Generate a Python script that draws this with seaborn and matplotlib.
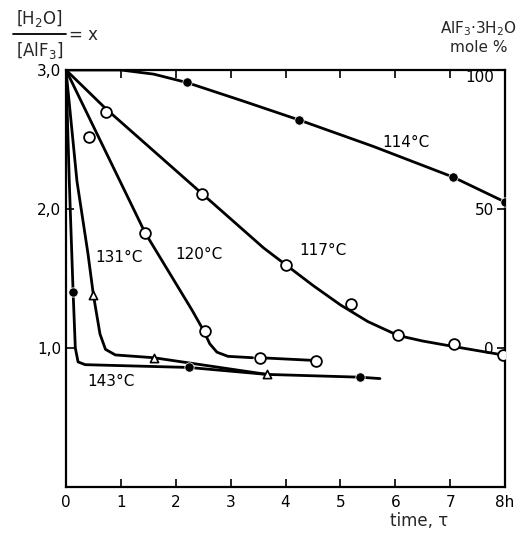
import matplotlib
matplotlib.use("Agg")
import matplotlib.pyplot as plt
from matplotlib.lines import Line2D
import seaborn as sns
import pandas as pd

# curves (time in h, x = [H2O]/[AlF3])
c114_t = [0, 1.0, 1.6, 2.2, 3.2, 4.25, 5.6, 7.05, 8.0]
c114_x = [3.0, 3.0, 2.97, 2.91, 2.78, 2.64, 2.45, 2.23, 2.05]
c117_t = [0, 0.73, 2.48, 3.6, 4.0, 4.5, 5.0, 5.5, 6.05, 6.5, 7.07, 7.96]
c117_x = [3.0, 2.72, 2.11, 1.72, 1.60, 1.45, 1.31, 1.19, 1.09, 1.05, 1.01, 0.95]
c120_t = [0, 1.44, 2.3, 2.5, 2.62, 2.75, 2.95, 3.4]
c120_x = [3.0, 1.83, 1.27, 1.13, 1.03, 0.97, 0.94, 0.93]
c120b_t = [3.53, 4.55]
c120b_x = [0.93, 0.91]
c131_t = [0, 0.2, 0.4, 0.5, 0.62, 0.72, 0.9, 1.6, 3.66]
c131_x = [3.0, 2.2, 1.68, 1.38, 1.1, 0.99, 0.95, 0.93, 0.81]
c143_t = [0, 0.06, 0.13, 0.17, 0.22, 0.35, 2.24, 3.66, 5.36, 5.72]
c143_x = [3.0, 2.2, 1.40, 1.0, 0.9, 0.88, 0.86, 0.81, 0.79, 0.78]

# measured points
p114_t = [2.2, 4.25, 7.05, 8.0]
p114_x = [2.91, 2.64, 2.23, 2.05]
p117_t = [0.73, 2.48, 4.0, 5.2, 6.05, 7.07, 7.96]
p117_x = [2.70, 2.11, 1.60, 1.32, 1.09, 1.03, 0.95]
p120_t = [0.42, 1.44, 2.53, 3.53, 4.55]
p120_x = [2.52, 1.83, 1.12, 0.93, 0.91]
p131_t = [0.49, 1.6, 3.66]
p131_x = [1.38, 0.93, 0.81]
p143_t = [0.13, 2.24, 5.36]
p143_x = [1.40, 0.86, 0.79]

x_ticks = [0, 1, 2, 3, 4, 5, 6, 7, 8]
x_labels = ["0", "1", "2", "3", "4", "5", "6", "7", "8h"]
y_ticks = [1.0, 2.0, 3.0]
y_labels = ["1,0", "2,0", "3,0"]
mole_ticks = [0, 50, 100]
mole_labels = ["0", "50", "100"]

curve_labels = [("114°C", 5.76, 2.48), ("117°C", 4.26, 1.70), ("120°C", 1.99, 1.67),
                ("131°C", 0.53, 1.65), ("143°C", 0.38, 0.76)]

sns.set_theme(style="ticks")
plt.rcParams["font.family"] = ["DejaVu Sans"]

fig = plt.figure(figsize=(5.3, 5.33), dpi=100)
ax = fig.add_axes([0.1245, 0.0863, 0.8285, 0.7824])

curves = [(c114_t, c114_x), (c117_t, c117_x), (c120_t, c120_x), (c120b_t, c120b_x),
          (c131_t, c131_x), (c143_t, c143_x)]
for t, v in curves:
    sns.lineplot(x=t, y=v, ax=ax, color="black", lw=2.0, sort=False, estimator=None)

filled = pd.DataFrame({"t": p114_t + p143_t, "x": p114_x + p143_x})
opened = pd.DataFrame({"t": p117_t + p120_t, "x": p117_x + p120_x})
sns.scatterplot(data=filled, x="t", y="x", ax=ax, color="black", s=45, zorder=5)
sns.scatterplot(data=opened, x="t", y="x", ax=ax, facecolor="white", edgecolor="black",
                linewidth=1.3, s=60, zorder=5)
sns.scatterplot(x=p131_t, y=p131_x, ax=ax, marker="^", facecolor="white",
                edgecolor="black", linewidth=1.2, s=35, zorder=5)

for txt, tx, ty in curve_labels:
    ax.text(tx, ty, txt, fontsize=11, color="black", va="center", ha="left")

ax.set_xlim(0, 8)
ax.set_ylim(0, 3.0)
ax.set_xticks(x_ticks)
ax.set_xticklabels(x_labels, fontsize=11)
ax.set_yticks(y_ticks)
ax.set_yticklabels(y_labels, fontsize=11)
ax.tick_params(direction="in", length=6, width=1.2, top=True, colors="black")
ax.tick_params(axis="x", pad=6)
for s in ax.spines.values():
    s.set_linewidth(1.6)
    s.set_color("black")
ax.set_xlabel("")
ax.set_ylabel("")

ax2 = ax.twinx()
ax2.set_ylim(-50, 100)
ax2.set_yticks(mole_ticks)
ax2.set_yticklabels(mole_labels, fontsize=11)
ax2.tick_params(axis="y", direction="in", length=6, width=1.2, pad=-8, colors="black")
for t in ax2.get_yticklabels():
    t.set_horizontalalignment("right")
    if t.get_text() == "100":
        t.set_verticalalignment("top")
for s in ax2.spines.values():
    s.set_visible(False)

# y quantity as a stacked fraction at the top left
fig.text(0.075, 0.965, "[H$_2$O]", fontsize=12, ha="center", va="center")
fig.text(0.075, 0.905, "[AlF$_3$]", fontsize=12, ha="center", va="center")
fig.add_artist(Line2D([0.025, 0.125], [0.937, 0.937], transform=fig.transFigure,
                      color="black", lw=1.3))
fig.text(0.13, 0.935, "= x", fontsize=12, ha="left", va="center")

fig.text(0.975, 0.93, "AlF$_3$·3H$_2$O\nmole %", fontsize=11, ha="right", va="center",
         multialignment="center")
fig.text(0.735, 0.006, "time, τ", fontsize=12, ha="left", va="bottom")

fig.savefig("out.png", dpi=100)
